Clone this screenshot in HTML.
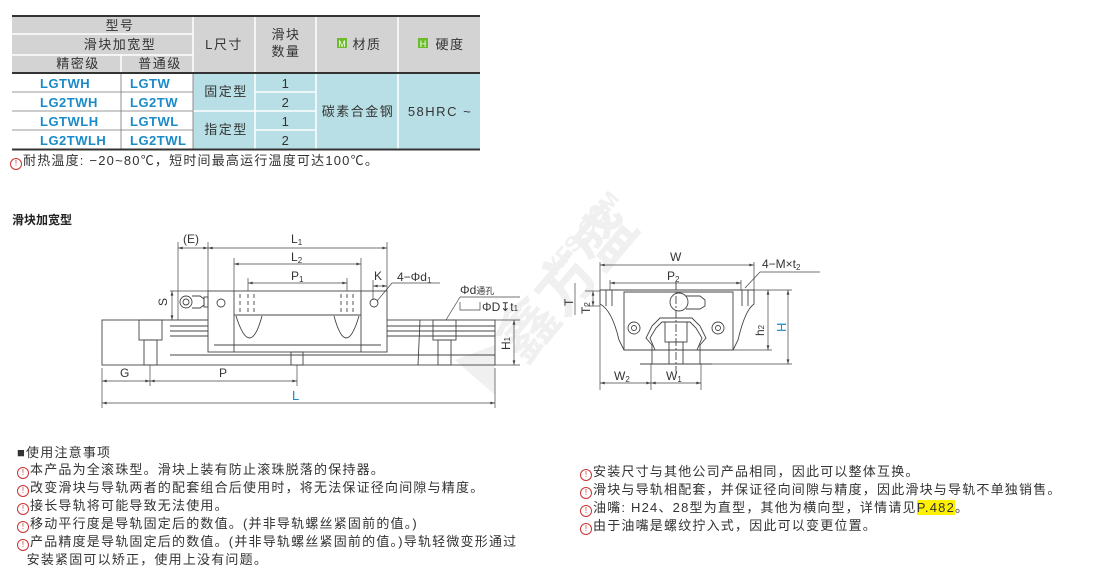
<!DOCTYPE html>
<html><head><meta charset="utf-8">
<style>
body{margin:0;width:1100px;height:587px;background:#fff;position:relative;overflow:hidden;font-family:"Liberation Sans","Noto Sans CJK SC",sans-serif;color:#333}
.a{position:absolute;white-space:nowrap}
.n{font-size:13px;line-height:17px;letter-spacing:1.2px}
.ic{display:inline-block;width:10px;height:10px;border:1px solid #c33;border-radius:50%;font-size:8px;line-height:10px;text-align:center;color:#c33;margin-right:1px;vertical-align:-1px;letter-spacing:0}
</style></head><body>
<svg class="a" style="left:0;top:0" width="1100" height="587" font-family="Liberation Sans, Noto Sans CJK SC, sans-serif">
<defs>
<marker id="ar" viewBox="0 0 10 6" refX="10" refY="3" markerWidth="7" markerHeight="4" orient="auto-start-reverse"><path d="M0 0 L10 3 L0 6 Z" fill="#444"/></marker>
</defs>
<!-- table -->
<rect x="12" y="16" width="468" height="57" fill="#d3d3d3"/>
<rect x="193" y="73" width="287" height="76" fill="#b8dfe5"/>
<g stroke="#fff" stroke-width="1.5">
<line x1="12" y1="34" x2="193" y2="34"/><line x1="12" y1="55" x2="193" y2="55"/>
<line x1="121" y1="55" x2="121" y2="73"/>
<line x1="193" y1="16" x2="193" y2="73"/><line x1="255" y1="16" x2="255" y2="73"/>
<line x1="316" y1="16" x2="316" y2="73"/><line x1="398" y1="16" x2="398" y2="73"/>
<line x1="255" y1="92" x2="316" y2="92"/><line x1="193" y1="111" x2="316" y2="111"/><line x1="255" y1="130" x2="316" y2="130"/>
<line x1="255" y1="73" x2="255" y2="149"/><line x1="316" y1="73" x2="316" y2="149"/><line x1="398" y1="73" x2="398" y2="149"/>
</g>
<g stroke="#777" stroke-width="0.8">
<line x1="12" y1="92" x2="193" y2="92"/><line x1="12" y1="111" x2="193" y2="111"/><line x1="12" y1="130" x2="193" y2="130"/>
<line x1="121" y1="73" x2="121" y2="149"/><line x1="193" y1="73" x2="193" y2="149"/>
</g>
<g stroke="#333" stroke-width="2"><line x1="12" y1="16" x2="480" y2="16"/><line x1="12" y1="73" x2="480" y2="73"/><line x1="12" y1="149.5" x2="480" y2="149.5"/></g>
<g font-size="13" fill="#333" text-anchor="middle" letter-spacing="1.5">
<text x="120" y="30">型号</text><text x="120" y="49">滑块加宽型</text>
<text x="78" y="68">精密级</text><text x="160" y="68">普通级</text>
<text x="224" y="49">L尺寸</text><text x="286" y="39">滑块</text><text x="286" y="56">数量</text>
<text x="367" y="49">材质</text><text x="450" y="49">硬度</text>
<text x="226" y="96">固定型</text><text x="226" y="134">指定型</text>
<text x="286" y="88">1</text><text x="286" y="107">2</text><text x="286" y="126">1</text><text x="286" y="145">2</text>
<text x="358" y="116">碳素合金钢</text><text x="440" y="116">58HRC ~</text>
</g>
<rect x="337" y="38" width="10" height="10" fill="#6cbc2a"/><text x="342" y="47" font-size="9" fill="#fff" text-anchor="middle">M</text>
<rect x="418" y="38" width="10" height="10" fill="#6cbc2a"/><text x="423" y="47" font-size="9" fill="#fff" text-anchor="middle">H</text>
<g font-size="13" font-weight="bold" fill="#1a8bc8" letter-spacing="0.5">
<text x="40" y="88">LGTWH</text><text x="130" y="88">LGTW</text>
<text x="40" y="107">LG2TWH</text><text x="130" y="107">LG2TW</text>
<text x="40" y="126">LGTWLH</text><text x="130" y="126">LGTWL</text>
<text x="40" y="145">LG2TWLH</text><text x="130" y="145">LG2TWL</text>
</g>
<!-- watermark -->
<g opacity="0.12" fill="#888"><text x="530" y="260" font-size="22" font-weight="bold" transform="rotate(-50 560 240)">XFS.COM</text><text x="480" y="330" font-size="60" font-weight="bold" transform="rotate(-50 540 300)">鑫方盛</text>
<polygon points="455,360 495,345 495,395" /></g>
<!-- left view -->
<g stroke="#444" stroke-width="0.9" fill="none">
<rect x="102" y="320" width="393" height="45"/>
<line x1="170" y1="326" x2="495" y2="326"/><line x1="170" y1="331" x2="495" y2="331"/><line x1="170" y1="336" x2="495" y2="336"/><line x1="170" y1="355" x2="495" y2="355"/>
<rect x="208" y="291" width="179" height="61" fill="#fff"/>
<line x1="234" y1="291" x2="234" y2="352"/><line x1="361" y1="291" x2="361" y2="352"/>
<line x1="234" y1="315" x2="361" y2="315"/><line x1="214" y1="345" x2="381" y2="345"/>
<path d="M236 316 Q250 360 262 316"/><path d="M334 316 Q346 360 359 316"/>
<line x1="240" y1="294" x2="240" y2="313" stroke-dasharray="4 3"/><line x1="248" y1="294" x2="248" y2="313" stroke-dasharray="4 3"/><line x1="254" y1="294" x2="254" y2="313" stroke-dasharray="4 3"/>
<line x1="341" y1="294" x2="341" y2="313" stroke-dasharray="4 3"/><line x1="347" y1="294" x2="347" y2="313" stroke-dasharray="4 3"/><line x1="353" y1="294" x2="353" y2="313" stroke-dasharray="4 3"/>
<circle cx="221" cy="303" r="4"/><circle cx="374" cy="303" r="4"/>
<circle cx="186" cy="302" r="6"/><circle cx="186" cy="302" r="3"/><path d="M192 296 h8 l4 3 v6 l-4 3 h-8"/><rect x="204" y="297" width="4" height="10"/>
<rect x="139" y="320" width="23" height="20"/><rect x="144" y="340" width="13" height="25"/>
<rect x="433" y="320" width="23" height="20"/><rect x="438" y="340" width="13" height="25"/>
<rect x="291" y="352" width="12" height="13"/>
<line x1="420" y1="320" x2="418" y2="365"/>
</g>
<g stroke="#444" stroke-width="0.7" fill="none">
<line x1="178" y1="242" x2="178" y2="320"/><line x1="208" y1="242" x2="208" y2="291"/><line x1="387" y1="242" x2="387" y2="291"/>
<line x1="234" y1="258" x2="234" y2="291"/><line x1="361" y1="258" x2="361" y2="291"/>
<line x1="248" y1="278" x2="248" y2="291"/><line x1="347" y1="278" x2="347" y2="291"/>
<line x1="373" y1="280" x2="373" y2="300"/>
<line x1="170" y1="291" x2="208" y2="291"/><line x1="170" y1="320" x2="208" y2="320"/>
<line x1="377" y1="301" x2="392" y2="283"/><line x1="392" y1="283" x2="440" y2="283"/>
<line x1="102" y1="368" x2="102" y2="408"/><line x1="150" y1="365" x2="150" y2="386"/><line x1="297" y1="365" x2="297" y2="386"/><line x1="495" y1="368" x2="495" y2="408"/>
<line x1="495" y1="320" x2="520" y2="320"/><line x1="495" y1="365" x2="520" y2="365"/>
<line x1="446" y1="320" x2="460" y2="297"/><line x1="460" y1="297" x2="520" y2="297"/>
<path d="M460 302 v8 h20 v-8"/>
</g>
<g stroke="#444" stroke-width="0.7" fill="none" marker-start="url(#ar)" marker-end="url(#ar)">
<line x1="178" y1="248" x2="208" y2="248"/><line x1="208" y1="248" x2="387" y2="248"/>
<line x1="234" y1="264" x2="361" y2="264"/><line x1="248" y1="283" x2="347" y2="283"/>
<line x1="373" y1="286" x2="387" y2="286"/>
<line x1="172" y1="291" x2="172" y2="320"/>
<line x1="102" y1="381" x2="150" y2="381"/><line x1="150" y1="381" x2="297" y2="381"/><line x1="102" y1="403" x2="495" y2="403"/>
<line x1="514" y1="320" x2="514" y2="365"/>
<line x1="600" y1="265" x2="754" y2="265"/><line x1="610" y1="283" x2="741" y2="283"/>
<line x1="600" y1="383" x2="651" y2="383"/><line x1="651" y1="383" x2="701" y2="383"/>
<line x1="768" y1="290" x2="768" y2="350"/><line x1="788" y1="290" x2="788" y2="364"/>
<line x1="593" y1="291" x2="593" y2="306"/>
</g>
<g font-size="12" fill="#333">
<text x="183" y="243">(E)</text><text x="291" y="243">L<tspan font-size="8" dy="2">1</tspan></text>
<text x="291" y="261">L<tspan font-size="8" dy="2">2</tspan></text><text x="291" y="280">P<tspan font-size="8" dy="2">1</tspan></text>
<text x="374" y="280">K</text><text x="397" y="281">4−Φd<tspan font-size="8" dy="2">1</tspan></text>
<text x="460" y="294">Φd<tspan font-size="9">通孔</tspan></text><text x="482" y="311">ΦD↧t<tspan font-size="8">1</tspan></text>
<text x="120" y="377">G</text><text x="219" y="377">P</text>
<text transform="translate(167 302) rotate(-90)" x="-4" y="0">S</text>
<text transform="translate(510 342) rotate(-90)" x="-8" y="0">H<tspan font-size="8">1</tspan></text>
</g>
<text x="292" y="400" font-size="13" fill="#1a8bc8">L</text>
<!-- right view -->
<g stroke="#444" stroke-width="0.9" fill="none">
<path d="M600 290 H754 V304 Q745 310 738 340 L733 350 H624 L619 340 Q612 310 600 304 Z" fill="#fff"/>
<path d="M624 292 H733 V350 H624 Z"/>
<line x1="606" y1="290" x2="606" y2="306"/><line x1="612" y1="290" x2="612" y2="306"/><line x1="742" y1="290" x2="742" y2="306"/><line x1="748" y1="290" x2="748" y2="306"/>
<path d="M652 364 V345 L646 338 L652 326 L660 318 H692 L700 326 L706 338 L700 345 V364 Z"/>
<path d="M655 350 L650 338 L656 328 L662 322 H690 L696 328 L702 338 L697 350"/>
<rect x="665" y="322" width="22" height="20"/><rect x="669" y="342" width="14" height="22"/>
<circle cx="634" cy="328" r="6"/><circle cx="634" cy="328" r="2.5"/><circle cx="718" cy="328" r="6"/><circle cx="718" cy="328" r="2.5"/>
<circle cx="679" cy="302" r="9"/><path d="M686 296 h14 l5 4 v6 l-5 3 h-14"/>
<line x1="676" y1="282" x2="676" y2="372" stroke-dasharray="8 2 2 2"/>
<line x1="640" y1="364" x2="712" y2="364"/>
</g>
<g stroke="#444" stroke-width="0.7" fill="none">
<line x1="600" y1="262" x2="600" y2="390"/><line x1="754" y1="262" x2="754" y2="290"/>
<line x1="610" y1="280" x2="610" y2="290"/><line x1="741" y1="280" x2="741" y2="290"/>
<line x1="651" y1="364" x2="651" y2="390"/><line x1="701" y1="364" x2="701" y2="390"/>
<line x1="754" y1="290" x2="792" y2="290"/><line x1="733" y1="350" x2="772" y2="350"/><line x1="712" y1="364" x2="792" y2="364"/>
<line x1="585" y1="291" x2="600" y2="291"/><line x1="585" y1="306" x2="600" y2="306"/>
<line x1="575" y1="283" x2="575" y2="315"/>
<line x1="745" y1="288" x2="760" y2="272"/><line x1="760" y1="272" x2="820" y2="272"/>
</g>
<g font-size="12" fill="#333">
<text x="670" y="261">W</text><text x="667" y="280">P<tspan font-size="8" dy="2">2</tspan></text>
<text x="762" y="268">4−M×t<tspan font-size="8" dy="2">2</tspan></text>
<text x="614" y="380">W<tspan font-size="8" dy="2">2</tspan></text><text x="666" y="380">W<tspan font-size="8" dy="2">1</tspan></text>
<text transform="translate(764 328) rotate(-90)" x="-8" y="0">h<tspan font-size="8">2</tspan></text>
<text transform="translate(590 306) rotate(-90)" x="-8" y="0">T<tspan font-size="8">2</tspan></text>
<text transform="translate(573 302) rotate(-90)" x="-4" y="0">T</text>
</g>
<text transform="translate(786 332) rotate(-90)" font-size="13" fill="#1a8bc8">H</text>
</svg>
<div class="a n" style="left:10px;top:152px"><span class="ic">!</span>耐热温度: −20~80℃，短时间最高运行温度可达100℃。</div>
<div class="a" style="left:12px;top:211px;font-size:12px;font-weight:bold;color:#222">滑块加宽型</div>
<div class="a n" style="left:17px;top:444px">■使用注意事项<br><span class="ic">!</span>本产品为全滚珠型。滑块上装有防止滚珠脱落的保持器。<br><span class="ic">!</span>改变滑块与导轨两者的配套组合后使用时，将无法保证径向间隙与精度。<br><span class="ic">!</span>接长导轨将可能导致无法使用。<br><span class="ic">!</span>移动平行度是导轨固定后的数值。(并非导轨螺丝紧固前的值。)<br><span class="ic">!</span>产品精度是导轨固定后的数值。(并非导轨螺丝紧固前的值。)导轨轻微变形通过<br>&nbsp;&nbsp;安装紧固可以矫正，使用上没有问题。</div>
<div class="a n" style="left:580px;top:463px"><span class="ic">!</span>安装尺寸与其他公司产品相同，因此可以整体互换。<br><span class="ic">!</span>滑块与导轨相配套，并保证径向间隙与精度，因此滑块与导轨不单独销售。<br><span class="ic">!</span>油嘴: H24、28型为直型，其他为横向型，详情请见<span style="background:#ffef00">P.482</span>。<br><span class="ic">!</span>由于油嘴是螺纹拧入式，因此可以变更位置。</div>
</body></html>
